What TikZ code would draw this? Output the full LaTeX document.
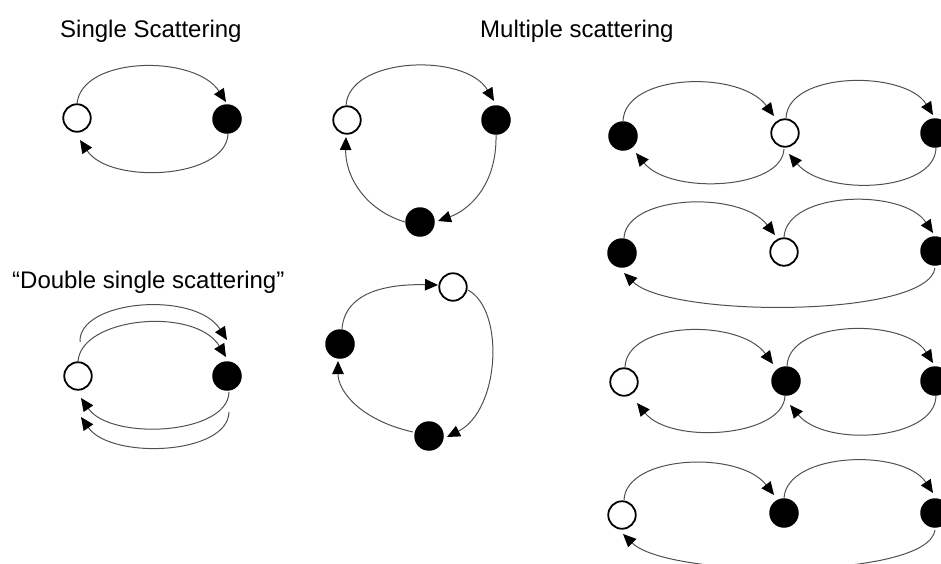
\documentclass[tikz,border=0pt]{standalone}
\usepackage{fontspec}
\setmainfont{Liberation Sans}
\usetikzlibrary{arrows.meta,calc}
\definecolor{ln}{RGB}{80,80,80}
\begin{document}
\begin{tikzpicture}[x=1pt,y=-1pt,
  openc/.style={circle,draw=black,line width=1.8pt,fill=white,minimum size=27.5pt,inner sep=0pt},
  fullc/.style={circle,fill=black,minimum size=29.5pt,inner sep=0pt},
  arr/.style={draw=ln,line width=1pt,-{Triangle[length=13pt,width=11.5pt,black]}},
  lbl/.style={font=\fontsize{24}{28}\selectfont,anchor=base west,inner sep=0pt}]
\useasboundingbox (0,0) rectangle (941,563);
\clip (0,0) rectangle (941,563);

% titles
\node[lbl] (t1) at (60,37) {Single Scattering};
\node[lbl] (t2) at (480,37) {Multiple scattering};
\node[lbl] (t3) at (12,288) {“Double single scattering”};

% single scattering
\node[openc] (o1) at (77,118) {};
\node[fullc] (f1) at (227,119) {};
\draw[arr] ($(o1)+(0,-14)$) .. controls +(4,-48) and +(-31,-48) .. ($(f1)+(-1,-17)$);
\draw[arr] ($(f1)+(1,15)$) .. controls +(-2,45) and +(30,45) .. ($(o1)+(3,22)$);

% double single scattering
\node[openc] (o2) at (78,376) {};
\node[fullc] (f2) at (227,376) {};
\draw[arr] ($(o2)+(2,-34)$) .. controls +(-2,-42) and +(-32,-50) .. ($(f2)+(0,-36)$);
\draw[arr] ($(o2)+(0,-14)$) .. controls +(2,-45) and +(-31,-51) .. ($(f2)+(-1,-19)$);
\draw[arr] ($(f2)+(2,16)$) .. controls +(-1,43) and +(30,43) .. ($(o2)+(3,22)$);
\draw[arr] ($(f2)+(2,36)$) .. controls +(-1,43) and +(30,43) .. ($(o2)+(3,41)$);

% triangle A
\node[openc] (oA) at (347,120) {};
\node[fullc] (fA1) at (496,120) {};
\node[fullc] (fA2) at (420,222) {};
\draw[arr] ($(oA)+(-1,-14)$) .. controls +(2,-49) and +(-29,-49) .. ($(fA1)+(-2,-19)$);
\draw[arr] ($(fA1)+(0,15)$) .. controls +(1,50) and +(31,-11) .. ($(fA2)+(18,-1)$);
\draw[arr] ($(fA2)+(-15,0)$) .. controls +(-40,-12) and +(-1,39) .. ($(oA)+(-1,17)$);

% triangle B
\node[openc] (oB) at (453,287) {};
\node[fullc] (fB1) at (340,344) {};
\node[fullc] (fB2) at (429,436) {};
\draw[arr] ($(fB1)+(2,-15)$) .. controls +(3,-40) and +(-44,-1) .. ($(oB)+(-15,-2)$);
\draw[arr] ($(oB)+(15,3)$) .. controls +(37,20) and +(53,-27) .. ($(fB2)+(18,1)$);
\draw[arr] ($(fB2)+(-16,-4)$) .. controls +(-53,-12) and +(0,30) .. ($(fB1)+(-2,17)$);

% row 1
\node[fullc] (r1a) at (623,136) {};
\node[openc] (r1b) at (785,133) {};
\node[fullc] (r1c) at (935,133) {};
\draw[arr] ($(r1a)+(0,-15)$) .. controls +(2,-48) and +(-34,-46) .. ($(r1b)+(-11,-17)$);
\draw[arr] ($(r1b)+(-1,16)$) .. controls +(-2,41) and +(34,42) .. ($(r1a)+(13,17)$);
\draw[arr] ($(r1b)+(1,-15)$) .. controls +(2,-47) and +(-28,-45) .. ($(r1c)+(-2,-18)$);
\draw[arr] ($(r1c)+(1,15)$) .. controls +(-1,44) and +(36,43) .. ($(r1b)+(4,21)$);

% row 2
\node[fullc] (r2a) at (622,253) {};
\node[openc] (r2b) at (784,252) {};
\node[fullc] (r2c) at (935,251) {};
\draw[arr] ($(r2a)+(2,-15)$) .. controls +(2,-43) and +(-35,-45) .. ($(r2b)+(-9,-17)$);
\draw[arr] ($(r2b)+(0,-15)$) .. controls +(3,-46) and +(-30,-45) .. ($(r2c)+(-2,-18)$);
\draw[arr] ($(r2c)+(0,17)$) .. controls +(-7,50) and +(46,45) .. ($(r2a)+(2,20)$);

% row 3
\node[openc] (r3a) at (624,382) {};
\node[fullc] (r3b) at (786,381) {};
\node[fullc] (r3c) at (935,381) {};
\draw[arr] ($(r3a)+(1,-15)$) .. controls +(2,-46) and +(-34,-46) .. ($(r3b)+(-13,-17)$);
\draw[arr] ($(r3b)+(1,-15)$) .. controls +(2,-47) and +(-28,-45) .. ($(r3c)+(-2,-18)$);
\draw[arr] ($(r3b)+(-1,15)$) .. controls +(-2,41) and +(34,42) .. ($(r3a)+(13,21)$);
\draw[arr] ($(r3c)+(1,15)$) .. controls +(-1,44) and +(36,43) .. ($(r3b)+(4,24)$);

% row 4
\node[openc] (r4a) at (622,515) {};
\node[fullc] (r4b) at (784,513) {};
\node[fullc] (r4c) at (935,513) {};
\draw[arr] ($(r4a)+(2,-15)$) .. controls +(2,-45) and +(-35,-45) .. ($(r4b)+(-10,-18)$);
\draw[arr] ($(r4b)+(0,-15)$) .. controls +(3,-46) and +(-30,-45) .. ($(r4c)+(-2,-20)$);
\draw[arr] ($(r4c)+(0,17)$) .. controls +(-7,50) and +(46,45) .. ($(r4a)+(1,19)$);
\end{tikzpicture}
\end{document}
